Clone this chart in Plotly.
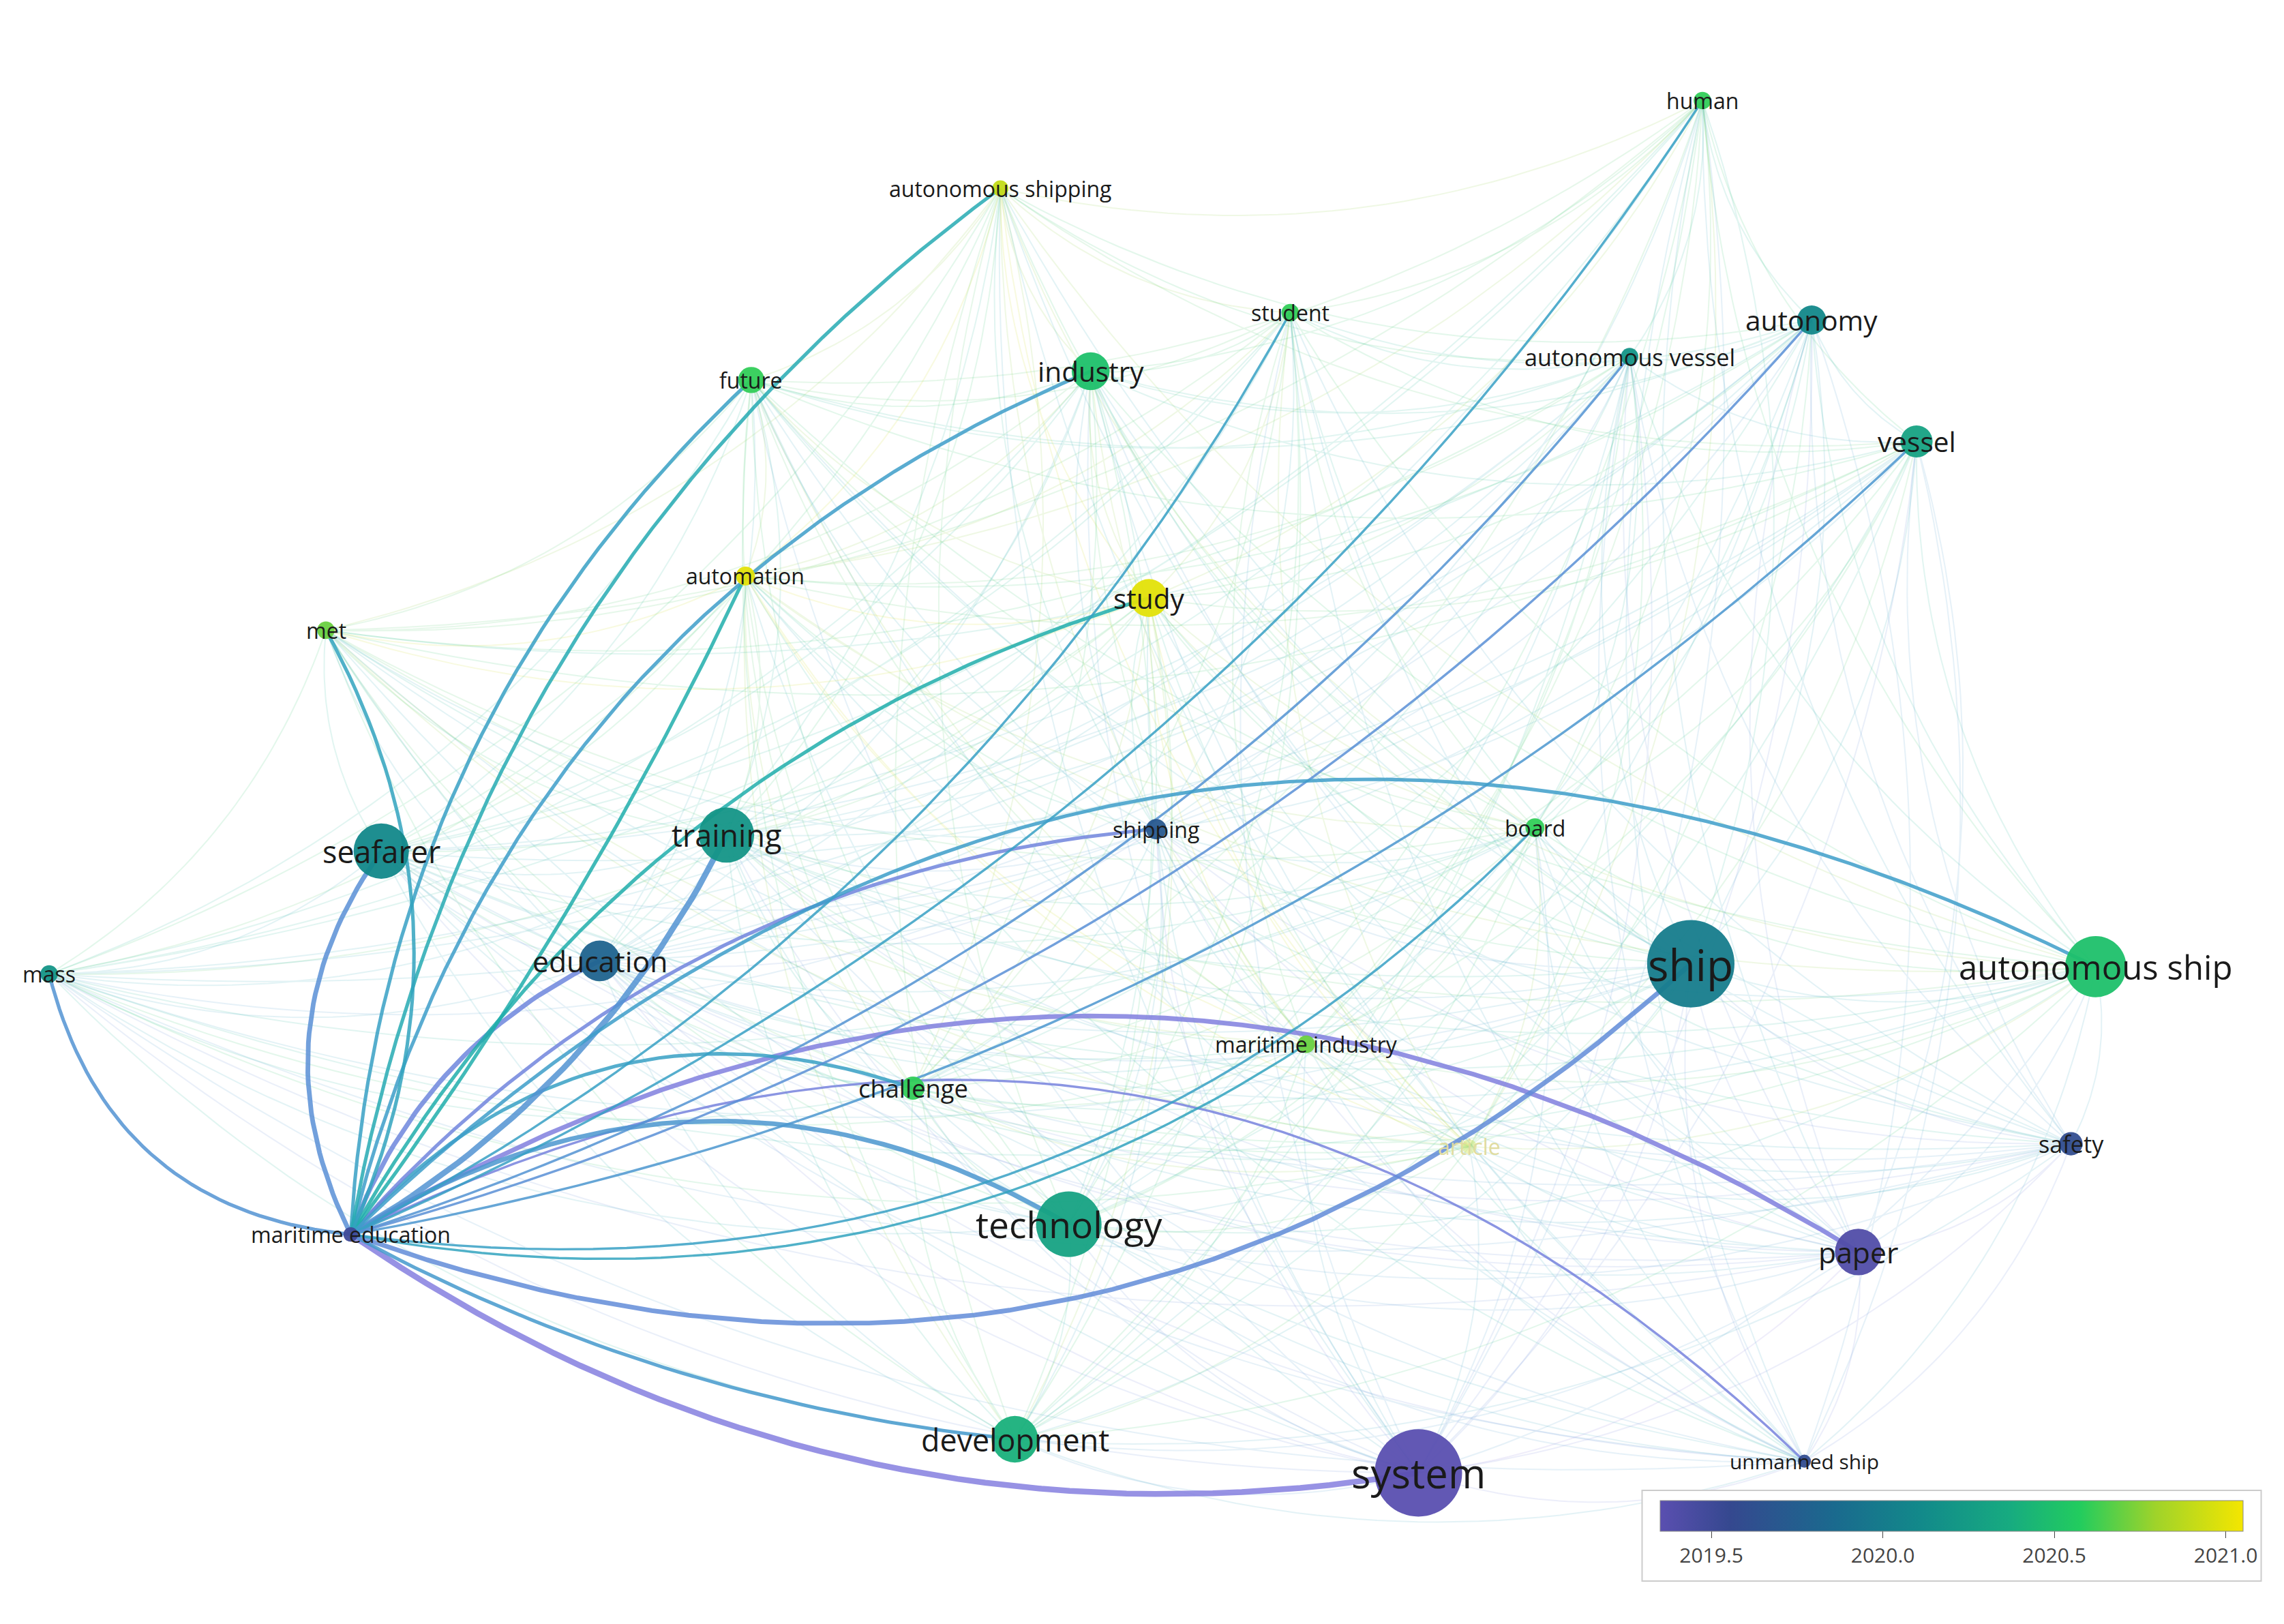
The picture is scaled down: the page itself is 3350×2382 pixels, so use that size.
import numpy as np
import plotly.graph_objects as go
from plotly.colors import sample_colorscale

labels = ["human","autonomous shipping","student","autonomy","autonomous vessel","industry","future",
          "vessel","automation","study","met","seafarer","training","shipping","board","mass","education",
          "ship","autonomous ship","maritime industry","challenge","article","safety","maritime education",
          "technology","paper","development","system","unmanned ship"]
xs = [1165,683,882,1240,1115,745,512,1312,508,785,220,258,495,790,1050,30,408,1157,1435,893,623,1005,1418,237,730,1272,693,970,1235]
ys = [65,125,210,215,240,250,256,298,390,405,427,578,567,563,562,662,653,655,657,710,740,780,778,840,833,852,980,1003,995]
years = [2020.6,2020.9,2020.6,2020.1,2020.2,2020.5,2020.6,2020.3,2021.0,2021.0,2020.7,2020.1,2020.2,2019.7,2020.6,
         2020.2,2019.8,2020.0,2020.5,2020.7,2020.6,2020.9,2019.6,2019.5,2020.3,2019.4,2020.4,2019.3,2019.6]
weights = [12,11,12,20,12,26,18,22,13,26,12,38,38,14,13,12,28,60,42,12,16,10,16,10,45,32,32,60,9]
label_size = [15,15,15,19,16,19,15,19,15,19,15,21,21,15,15,15,20,30,23,15,17,15,16,15,25,20,21,28,14]

me_targets = ["system","development","paper","unmanned ship","ship","technology","challenge","maritime industry",
              "board","shipping","education","training","study","automation","industry","future",
              "autonomous shipping","met","seafarer","mass","student","human","autonomous vessel","autonomy",
              "vessel","autonomous ship"]
me_curv = [0.2,0.1,-0.3,-0.35,0.3,-0.3,-0.33,0.2,0.25,-0.2,-0.2,0.15,-0.2,0.05,-0.25,-0.2,-0.2,0.25,-0.3,-0.35,
           0.15,0.15,0.15,0.15,0.15,-0.35]
me_width = [5,3,4,2,4,4,3,2,2,3,4,5,3,3,3,3,3,3,4,3,2,2,2,2,2,3]

S = 3350/1568
cmin, cmax = 2019.35, 2021.05
cscale = [[0,"#5a4fb0"],[0.12,"#35488f"],[0.3,"#1a6a8e"],[0.45,"#128a8a"],[0.6,"#17ab80"],[0.72,"#22cc5e"],
          [0.85,"#9fd32a"],[1,"#f4e600"]]
edge_scale = [[0,"#8a7de0"],[0.2,"#6a88dd"],[0.4,"#3aa0c8"],[0.55,"#1cb0a8"],[0.7,"#28c870"],
              [0.85,"#a0d030"],[1,"#e8e000"]]

def col(v, sc=cscale):
    t = min(max((v-cmin)/(cmax-cmin),0),1)
    return sample_colorscale(sc,[t])[0]

idx = {l:i for i,l in enumerate(labels)}

def curve(i,j,c,n=40):
    x0,y0,x1,y1 = xs[i],ys[i],xs[j],ys[j]
    dx,dy = x1-x0,y1-y0
    mx,my = (x0+x1)/2+c*(-dy), (y0+y1)/2+c*dx
    t = np.linspace(0,1,n)
    bx = (1-t)**2*x0+2*(1-t)*t*mx+t**2*x1
    by = (1-t)**2*y0+2*(1-t)*t*my+t**2*y1
    return bx,by

fig = go.Figure()
me = idx["maritime education"]
bins = {}
for i in range(len(labels)):
    for j in range(i+1,len(labels)):
        if me in (i,j): continue
        v = (years[i]+years[j])/2
        b = round((v-cmin)/(cmax-cmin)*12)
        bx,by = curve(i,j,0.18 if xs[j]>xs[i] else -0.18)
        bins.setdefault(b,([],[],v))
        bins[b][0].extend(list(bx)+[None]); bins[b][1].extend(list(by)+[None])
for b,(bx,by,v) in bins.items():
    fig.add_trace(go.Scatter(x=bx,y=by,mode="lines",line=dict(color=col(v,edge_scale),width=2),opacity=0.13,
                             hoverinfo="skip",showlegend=False))
for tname,c,w in zip(me_targets,me_curv,me_width):
    j = idx[tname]
    bx,by = curve(me,j,c)
    v = (years[me]+years[j])/2
    fig.add_trace(go.Scatter(x=bx,y=by,mode="lines",line=dict(color=col(v,edge_scale),width=w*S*0.8),opacity=0.85,
                             hoverinfo="skip",showlegend=False))
fig.add_trace(go.Scatter(x=xs,y=ys,mode="markers",
    marker=dict(size=[w*S for w in weights],color=years,colorscale=cscale,cmin=cmin,cmax=cmax,
                line=dict(width=0),opacity=[0.3 if l=="article" else 0.95 for l in labels],
                colorbar=dict(orientation="h",x=0.852,y=0.03,xanchor="center",yanchor="bottom",len=0.27,
                              thickness=45,tickvals=[2019.5,2020.0,2020.5,2021.0],
                              ticktext=["2019.5","2020.0","2020.5","2021.0"],ticks="outside",ticklen=10,
                              tickfont=dict(size=30,color="#444"),outlinewidth=1,outlinecolor="#888",
                              bgcolor="white",bordercolor="#ccc",borderwidth=2,xpad=25,ypad=15)),
    showlegend=False,hoverinfo="text",text=labels))
for l,x,y,fs in zip(labels,xs,ys,label_size):
    fig.add_annotation(x=x,y=y,text=l,showarrow=False,
                       font=dict(size=fs*S,color="#e0dca0" if l=="article" else "#1a1a1a",family="Open Sans"))
fig.update_xaxes(range=[0,1568],visible=False)
fig.update_yaxes(range=[1110,0],visible=False)
fig.update_layout(width=3350,height=2382,margin=dict(l=0,r=0,t=0,b=0),plot_bgcolor="white",paper_bgcolor="white")
fig.write_html("out.html")
